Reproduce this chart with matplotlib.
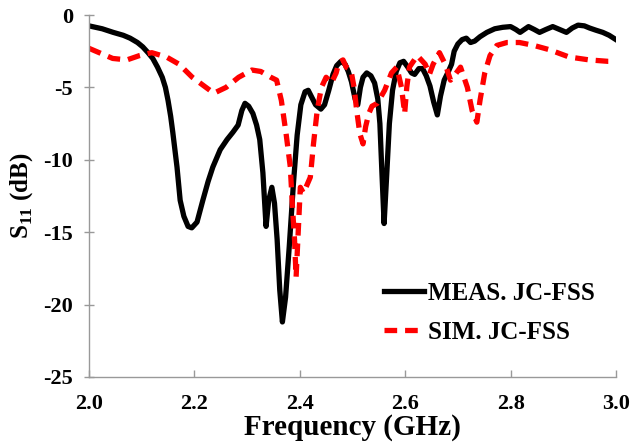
import matplotlib
matplotlib.use('Agg')
import matplotlib.pyplot as plt

plt.rcParams['font.family'] = ['Liberation Serif', 'DejaVu Serif']
plt.rcParams['font.weight'] = 'bold'
plt.rcParams['mathtext.fontset'] = 'custom'
plt.rcParams['mathtext.rm'] = 'Liberation Serif:bold'
plt.rcParams['mathtext.bf'] = 'Liberation Serif:bold'

# Measured S11 (black)
meas_f = [2.000, 2.025, 2.046, 2.065, 2.078, 2.092, 2.102, 2.112, 2.121, 2.130,
          2.139, 2.145, 2.150, 2.155, 2.159, 2.163, 2.167, 2.173, 2.180, 2.188,
          2.195, 2.205, 2.216, 2.226, 2.235, 2.249, 2.262, 2.273, 2.283, 2.290,
          2.296, 2.303, 2.311, 2.318, 2.324, 2.330, 2.336, 2.341, 2.347, 2.352,
          2.357, 2.362, 2.367, 2.373, 2.380, 2.388, 2.395, 2.402, 2.410, 2.416,
          2.423, 2.430, 2.440, 2.447, 2.455, 2.463, 2.470, 2.478, 2.486, 2.492,
          2.498, 2.505, 2.510, 2.515, 2.520, 2.527, 2.535, 2.542, 2.548, 2.552,
          2.556, 2.560, 2.565, 2.570, 2.576, 2.583, 2.590, 2.597, 2.605, 2.612,
          2.618, 2.626, 2.633, 2.640, 2.647, 2.654, 2.661, 2.667, 2.674, 2.682,
          2.688, 2.693, 2.700, 2.708, 2.716, 2.724, 2.732, 2.742, 2.755, 2.770,
          2.785, 2.800, 2.810, 2.818, 2.826, 2.834, 2.845, 2.855, 2.867, 2.880,
          2.893, 2.906, 2.917, 2.928, 2.940, 2.950, 2.962, 2.975, 2.987, 3.000]
meas_db = [-0.75, -0.95, -1.2, -1.4, -1.6, -1.9, -2.2, -2.6, -3.0, -3.6,
           -4.3, -5.0, -5.9, -7.0, -8.1, -9.3, -10.5, -12.8, -13.9, -14.6,
           -14.7, -14.3, -12.8, -11.5, -10.5, -9.3, -8.6, -8.1, -7.6, -6.6,
           -6.1, -6.3, -6.8, -7.6, -8.6, -10.9, -14.6, -12.8, -11.9, -13.0,
           -15.5, -19.0, -21.2, -19.5, -16.0, -11.6, -8.3, -6.2, -5.3, -5.2,
           -5.7, -6.2, -6.5, -6.2, -5.2, -4.1, -3.5, -3.2, -3.4, -3.9,
           -4.6, -5.8, -6.2, -5.0, -4.3, -4.0, -4.2, -4.7, -5.8, -7.5,
           -11.0, -14.4, -11.0, -7.5, -5.2, -3.9, -3.3, -3.2, -3.6, -4.0,
           -4.1, -3.7, -3.7, -4.2, -4.9, -6.0, -6.9, -5.6, -4.5, -3.9,
           -3.4, -2.5, -2.0, -1.7, -1.6, -1.9, -1.8, -1.5, -1.2, -0.95,
           -0.85, -0.8, -1.0, -1.2, -1.0, -0.8, -1.0, -1.2, -1.0, -0.8,
           -1.0, -1.2, -0.9, -0.7, -0.75, -0.9, -1.05, -1.2, -1.4, -1.7]

# Simulated S11 (red dashed)
sim_f = [2.000, 2.045, 2.072, 2.096, 2.119, 2.147, 2.171, 2.196, 2.222, 2.237,
         2.260, 2.284, 2.309, 2.326, 2.345, 2.356, 2.365, 2.374, 2.382, 2.386,
         2.390, 2.393, 2.397, 2.401, 2.407, 2.420, 2.426, 2.433, 2.441, 2.450,
         2.460, 2.469, 2.474, 2.482, 2.488, 2.497, 2.503, 2.508, 2.514, 2.520,
         2.525, 2.531, 2.537, 2.547, 2.561, 2.574, 2.584, 2.593, 2.599, 2.603,
         2.608, 2.623, 2.638, 2.646, 2.653, 2.665, 2.676, 2.686, 2.695, 2.705,
         2.718, 2.727, 2.736, 2.742, 2.751, 2.761, 2.774, 2.793, 2.817, 2.844,
         2.874, 2.911, 2.949, 2.985, 3.000]
sim_db = [-2.3, -3.0, -3.1, -2.8, -2.6, -2.9, -3.4, -4.3, -5.0, -5.4,
          -5.0, -4.3, -3.8, -3.9, -4.3, -4.5, -5.9, -8.2, -10.5, -13.2,
          -15.5, -18.1, -15.0, -11.9, -12.3, -11.2, -8.9, -6.6, -5.0, -4.3,
          -4.7, -4.0, -3.3, -3.1, -3.6, -3.8, -5.0, -6.6, -8.2, -8.9,
          -7.7, -6.8, -6.3, -6.1, -5.2, -4.0, -3.6, -5.0, -6.8, -5.0,
          -3.6, -2.8, -3.4, -4.1, -3.4, -2.6, -3.4, -4.5, -4.1, -3.6,
          -5.0, -6.6, -7.4, -5.9, -4.0, -2.8, -2.1, -1.9, -1.9, -2.1,
          -2.4, -2.9, -3.1, -3.2, -3.2]

xticks = [2.0, 2.2, 2.4, 2.6, 2.8, 3.0]
yticks = [-25, -20, -15, -10, -5, 0]

fig = plt.figure(figsize=(6.33, 4.48), dpi=100)
ax = fig.add_axes([0.1406, 0.1585, 0.8325, 0.808])

ax.plot(meas_f, meas_db, color='black', lw=3.8, solid_joinstyle='round',
        label='MEAS. JC-FSS')
ax.plot(sim_f, sim_db, color='#ff0000', lw=3.8, linestyle=(0, (2.4, 1.5)),
        label='SIM. JC-FSS')

ax.set_xlim(2.0, 3.0)
ax.set_ylim(-25, 0)
ax.set_xticks(xticks)
ax.set_xticklabels(['%.1f' % t for t in xticks])
ax.set_yticks(yticks)
ax.set_yticklabels([str(t) for t in yticks])

for s in ['top', 'right']:
    ax.spines[s].set_visible(False)
for s in ['left', 'bottom']:
    ax.spines[s].set_color('#999999')
    ax.spines[s].set_linewidth(1.0)

ax.tick_params(axis='x', direction='in', length=5, width=1, color='#999999',
               labelsize=16, pad=12)
ax.tick_params(axis='y', direction='inout', length=7, width=1, color='#999999',
               labelsize=16, pad=8)

ax.set_xlabel('Frequency (GHz)', fontsize=21, fontweight='bold', labelpad=0)
ax.set_ylabel(r'S$_{\mathbf{11}}$ (dB)', fontsize=18, fontweight='bold', labelpad=6)

ax.legend(loc='upper left', bbox_to_anchor=(0.56, 0.262), frameon=False,
          fontsize=18, handlelength=1.6, handletextpad=0.15, labelspacing=0.62,
          borderpad=0, borderaxespad=0)

fig.savefig('out.png', dpi=100)
